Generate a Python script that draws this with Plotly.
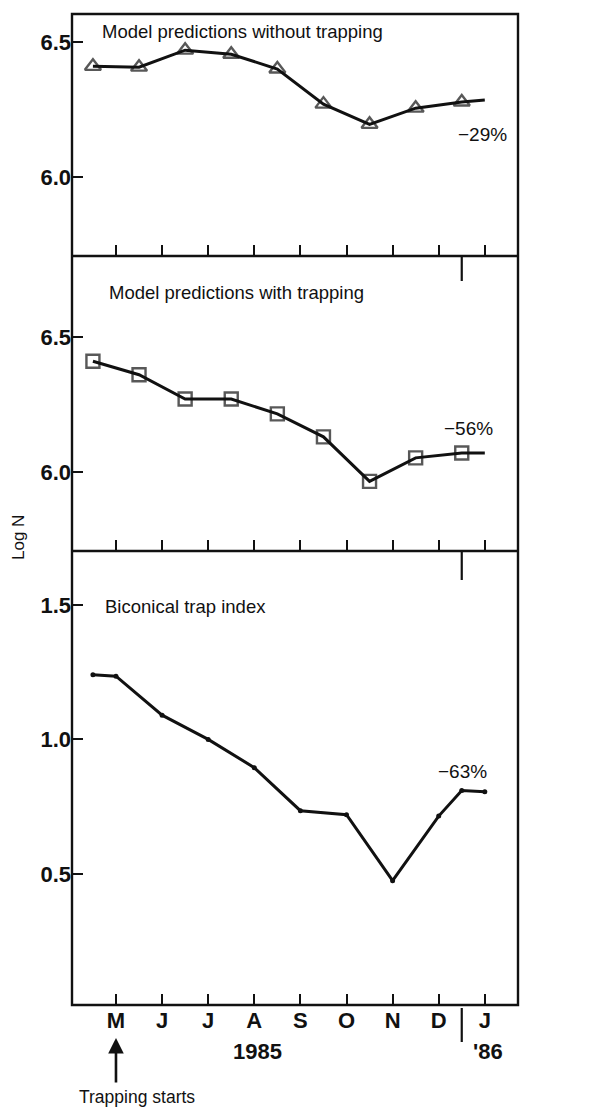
import plotly.graph_objects as go

# ---- data -------------------------------------------------------------
month_labels = ["M", "J", "J", "A", "S", "O", "N", "D", "J"]
month_ticks = [0, 1, 2, 3, 4, 5, 6, 7, 8]          # May 1985 .. Jan 1986
year_break = 7.5                                   # end of December

# model without trapping (half-month sample points, last point is line end only)
x_model = [-0.5, 0.5, 1.5, 2.5, 3.5, 4.5, 5.5, 6.5, 7.5, 8.0]
logn_no_trap = [6.41, 6.407, 6.47, 6.455, 6.40, 6.27, 6.195, 6.255, 6.278, 6.285]
logn_trap = [6.41, 6.36, 6.27, 6.27, 6.215, 6.13, 5.965, 6.052, 6.07, 6.07]

# biconical trap index
x_trap = [-0.5, 0, 1, 2, 3, 4, 5, 6, 7, 7.5, 8.0]
trap_index = [1.24, 1.235, 1.09, 1.0, 0.895, 0.735, 0.72, 0.475, 0.715, 0.81, 0.805]

pct_labels = ["\u221229%", "\u221256%", "\u221263%"]
panel_titles = ["Model predictions without trapping",
                "Model predictions with trapping",
                "Biconical trap index"]

# ---- geometry helpers (pixel -> paper) --------------------------------
W, H = 615, 1109
def px(x):
    return x / W
def py(y):
    return 1 - y / H

INK = "#111111"
FONT = "Liberation Sans, Arial, sans-serif"

fig = go.Figure()

n_model = len(x_model)
fig.add_trace(go.Scatter(
    x=x_model, y=logn_no_trap, xaxis="x", yaxis="y", mode="lines+markers",
    line=dict(color=INK, width=3),
    marker=dict(symbol="triangle-up-open", size=[14] * (n_model - 1) + [0],
                color=INK, line=dict(width=2.4, color=INK)),
    showlegend=False, hoverinfo="skip"))

fig.add_trace(go.Scatter(
    x=x_model, y=logn_trap, xaxis="x2", yaxis="y2", mode="lines+markers",
    line=dict(color=INK, width=3),
    marker=dict(symbol="square-open", size=[13] * (n_model - 1) + [0],
                color=INK, line=dict(width=2.4, color=INK)),
    showlegend=False, hoverinfo="skip"))

fig.add_trace(go.Scatter(
    x=x_trap, y=trap_index, xaxis="x3", yaxis="y3", mode="lines+markers",
    line=dict(color=INK, width=3),
    marker=dict(symbol="circle", size=5, color=INK),
    showlegend=False, hoverinfo="skip"))

LEFT, RIGHT, TOP, BOTTOM = 72, 518, 14, 1005
x_dom = [px(LEFT), px(RIGHT)]
x_rng = [-0.954, 8.72]
panels = [  # (top px, bottom px, y range, y ticks)
    (TOP, 256, [5.707, 6.604], [6.0, 6.5]),
    (256, 551, [5.707, 6.800], [6.0, 6.5]),
    (551, BOTTOM, [0.013, 1.700], [0.5, 1.0, 1.5]),
]

layout = dict(
    width=W, height=H, margin=dict(l=0, r=0, t=0, b=0),
    paper_bgcolor="white", plot_bgcolor="white",
    font=dict(family=FONT, color=INK),
    showlegend=False,
)

for i, (top, bot, yr, yt) in enumerate(panels):
    sfx = "" if i == 0 else str(i + 1)
    last = i == 2
    layout["xaxis" + sfx] = dict(
        domain=x_dom, range=x_rng, anchor="y" + sfx,
        showgrid=False, zeroline=False, showline=False,
        ticks="inside", ticklen=11, tickwidth=2, tickcolor=INK,
        tickvals=month_ticks, ticktext=month_labels,
        showticklabels=last,
        tickfont=dict(family=FONT, size=22, weight="bold", color=INK),
    )
    layout["yaxis" + sfx] = dict(
        domain=[py(bot), py(top)], range=yr, anchor="x" + sfx,
        showgrid=False, zeroline=False, showline=False,
        ticks="inside", ticklen=11, tickwidth=2, tickcolor=INK,
        tickvals=yt, ticktext=[f"{v:.1f}" for v in yt],
        tickfont=dict(family=FONT, size=22, weight="bold", color=INK),
    )

fig.update_layout(**layout)

# outer frame and the two panel separators
fig.add_shape(type="rect", xref="paper", yref="paper",
              x0=px(LEFT), x1=px(RIGHT), y0=py(BOTTOM), y1=py(TOP),
              line=dict(color=INK, width=2.4))
for y in (256, 551):
    fig.add_shape(type="line", xref="paper", yref="paper",
                  x0=px(LEFT), x1=px(RIGHT), y0=py(y), y1=py(y),
                  line=dict(color=INK, width=2.4))

# year boundary marks
for xr, y0, y1 in [("x", 256, 281), ("x2", 551, 580), ("x3", 1008, 1042)]:
    fig.add_shape(type="line", xref=xr, yref="paper",
                  x0=year_break, x1=year_break, y0=py(y0), y1=py(y1),
                  line=dict(color=INK, width=2.2))

ann = []
# panel titles
for t, (x, y) in zip(panel_titles, [(100, 32), (107, 293), (103, 606)]):
    ann.append(dict(text=t, x=px(x), y=py(y), xref="paper", yref="paper",
                    xanchor="left", yanchor="middle", showarrow=False,
                    font=dict(family=FONT, size=18.5, color=INK)))
# percentage change labels
for t, (x, y) in zip(pct_labels, [(482, 134), (468, 429), (462, 771)]):
    ann.append(dict(text=t, x=px(x), y=py(y), xref="paper", yref="paper",
                    xanchor="center", yanchor="middle", showarrow=False,
                    font=dict(family=FONT, size=19, color=INK)))
# year labels
for t, x in [("1985", 257), ("'86", 488)]:
    ann.append(dict(text=t, x=px(x), y=py(1051), xref="paper", yref="paper",
                    xanchor="center", yanchor="middle", showarrow=False,
                    font=dict(family=FONT, size=22, weight="bold", color=INK)))
# y-axis title
ann.append(dict(text="Log N", x=px(18), y=py(538), xref="paper", yref="paper",
                xanchor="center", yanchor="middle", showarrow=False, textangle=-90,
                font=dict(family=FONT, size=17, color=INK)))
# trapping start arrow and caption
ann.append(dict(text="", x=0, xref="x3", y=py(1038), yref="paper",
                ax=0, ay=46, showarrow=True, arrowhead=2, arrowsize=1.2,
                arrowwidth=2.6, arrowcolor=INK))
ann.append(dict(text="Trapping starts", x=px(137), y=py(1097), xref="paper",
                yref="paper", xanchor="center", yanchor="middle", showarrow=False,
                font=dict(family=FONT, size=17.5, color=INK)))

fig.update_layout(annotations=ann)

fig.write_html("out.html")
